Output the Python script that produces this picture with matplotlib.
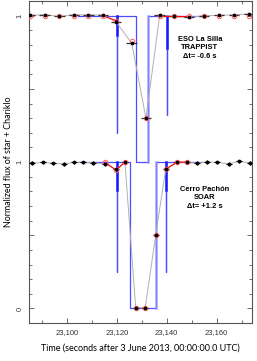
import matplotlib
matplotlib.use("Agg")
import matplotlib.pyplot as plt
import matplotlib.ticker as ticker
import numpy as np

# TRAPPIST (upper curve, plotted as flux + 1)
trap_t = [23085.3, 23091.1, 23097.0, 23102.8, 23108.7, 23114.5, 23119.8, 23126.0,
          23131.7, 23137.2, 23143.0, 23149.0, 23155.0, 23160.9, 23166.9, 23172.9]
trap_flux = [1.002, 1.007, 0.995, 1.007, 1.005, 1.005, 0.956, 0.813,
             0.299, 1.002, 0.995, 0.988, 1.000, 1.002, 1.007, 1.012]
trap_fit = [1.0, 1.0, 1.0, 1.0, 1.0, 1.0, 0.966, 0.824,
            0.300, 1.0, 1.0, 1.0, 1.0, 1.0, 1.0, 1.0]
trap_model_t = [23104.5, 23120.2, 23120.2, 23120.3, 23120.3, 23127.6, 23127.6,
                23132.4, 23132.4, 23140.0, 23140.0, 23140.1, 23140.1, 23154.0]
trap_model_f = [1.0, 1.0, 0.2, 0.2, 1.0, 1.0, 0.0,
                0.0, 1.0, 1.0, 0.32, 0.32, 1.0, 1.0]
trap_rings = [23120.2, 23140.0]
trap_ring_mark = [0.87, 0.78]

# SOAR (lower curve)
soar_t = [23086.2, 23090.6, 23094.6, 23099.0, 23102.9, 23106.6, 23110.6, 23115.3,
          23119.7, 23123.3, 23127.6, 23131.4, 23135.6, 23139.6, 23144.2, 23148.2,
          23152.2, 23156.2, 23160.2, 23164.9, 23168.9, 23173.3]
soar_flux = [0.993, 0.998, 0.991, 0.988, 0.998, 0.998, 0.995, 0.988,
             0.950, 0.998, 0.005, 0.005, 0.500, 0.950, 0.998, 0.998,
             0.993, 1.002, 0.998, 0.988, 1.005, 0.995]
soar_fit_t = [23115.3, 23119.7, 23123.3, 23127.6, 23131.4, 23135.6, 23139.6, 23144.2, 23148.2]
soar_fit = [1.0, 0.945, 1.0, 0.0, 0.0, 0.5, 0.952, 1.0, 1.0]
soar_model_t = [23104.5, 23120.2, 23120.2, 23120.3, 23120.3, 23125.3, 23125.3,
                23135.6, 23135.6, 23139.6, 23139.6, 23139.7, 23139.7, 23154.0]
soar_model_f = [1.0, 1.0, 0.25, 0.25, 1.0, 1.0, 0.0,
                0.0, 1.0, 1.0, 0.25, 0.25, 1.0, 1.0]
soar_rings = [23120.2, 23139.6]
soar_ring_mark = [0.81, 0.81]

offset = 1.0


def draw_curve(ax, t, flux, fit_t, fit, red_idx, model_t, model_f, egress,
               rings, ring_mark, xerr, yerr, barcol, off):
    flux = np.array(flux) + off
    fit = np.array(fit) + off
    model_f = np.array(model_f) + off
    ax.plot(model_t, model_f, color='#4d4dff', lw=0.9, zorder=1)
    ax.plot([egress, egress], [off, off + 1], color='#9999ff', lw=2.0, alpha=0.7, zorder=1)
    for r, m in zip(rings, ring_mark):
        ax.plot([r, r], [off + 1, off + m], color='#1a1aff', lw=1.8, zorder=2)
    ax.plot(t, flux, color='#b0b0b0', lw=0.7, zorder=2)
    ax.errorbar(t, flux, xerr=xerr, yerr=yerr, fmt='none', ecolor=barcol,
                elinewidth=0.9, capsize=0, zorder=3)
    for seg in red_idx:
        ax.plot([fit_t[i] for i in seg], [fit[i] for i in seg], color='red', lw=0.8, zorder=3)
    ax.plot(fit_t, fit, 'o', mfc='none', mec='#ff6060', ms=3.2, mew=0.7, zorder=4)
    ax.plot(t, flux, 'o', color='black', ms=1.7, zorder=5)


def main():
    fig = plt.figure(figsize=(2.57, 3.61), dpi=100)
    ax = fig.add_axes([0.114, 0.105, 0.865, 0.892])

    draw_curve(ax, trap_t, trap_flux, trap_t, trap_fit, [[5, 6], [9, 10, 11]],
               trap_model_t, trap_model_f, 23132.4, trap_rings, trap_ring_mark,
               2.1, 0.0, '#333333', offset)
    draw_curve(ax, soar_t, soar_flux, soar_fit_t, soar_fit, [[0, 1, 2], [6, 7, 8]],
               soar_model_t, soar_model_f, 23135.6, soar_rings, soar_ring_mark,
               1.2, 0.012, 'black', 0.0)

    bold = dict(fontsize=5.4, fontweight='bold', family='Liberation Sans',
                ha='center', va='center', linespacing=1.25)
    ax.text(23153.3, 1.78, "ESO La Silla\nTRAPPIST\n\u0394t= -0.6 s", **bold)
    ax.text(23155.3, 0.755, "Cerro Pach\u00f3n\nSOAR\n\u0394t= +1.2 s", **bold)

    ax.set_xlim(23085, 23174)
    ax.set_ylim(-0.1, 2.1)
    ax.xaxis.set_major_locator(ticker.MultipleLocator(20))
    ax.xaxis.set_minor_locator(ticker.MultipleLocator(10))
    ax.xaxis.set_major_formatter(ticker.FuncFormatter(lambda v, p: "{:,.0f}".format(v)))
    ax.yaxis.set_major_locator(ticker.FixedLocator([0, 0.5, 1, 1.5, 2]))
    ax.yaxis.set_major_formatter(ticker.FixedFormatter(['0', '', '1', '', '1']))
    ax.yaxis.set_minor_locator(ticker.MultipleLocator(0.1))
    ax.tick_params(which='both', direction='in', top=True, right=True,
                   labelsize=5.5, labelcolor='#333333', width=0.6, color='#555555')
    ax.tick_params(which='major', length=3.5, pad=4)
    ax.tick_params(which='minor', length=2)
    for lab in ax.get_yticklabels():
        lab.set_rotation(90)
        lab.set_va('center')
        lab.set_family('Liberation Sans')
    for lab in ax.get_xticklabels():
        lab.set_family('Liberation Sans')
    for s in ax.spines.values():
        s.set_color('#555555')
        s.set_linewidth(0.8)

    ax.set_xlabel("Time (seconds after 3 June 2013, 00:00:00.0 UTC)", fontsize=6.5,
                  family='Lato', labelpad=6)
    ax.set_ylabel("Normalized flux of star + Chariklo", fontsize=6.4, family='Lato',
                  labelpad=3)
    fig.savefig("out.png", dpi=100)


if __name__ == "__main__":
    main()
